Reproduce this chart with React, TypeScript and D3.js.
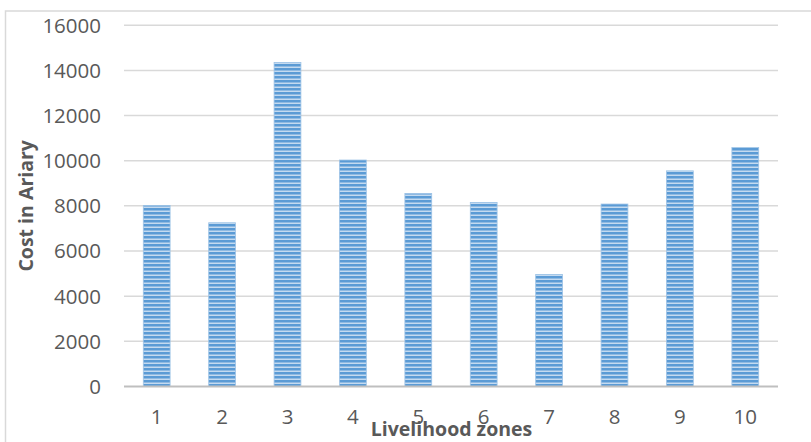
import React from "react";
import * as d3 from "d3";

const zones = ["1", "2", "3", "4", "5", "6", "7", "8", "9", "10"];
const costs = [8020, 7250, 14350, 10030, 8550, 8150, 4960, 8080, 9550, 10590];
const yTicks = [0, 2000, 4000, 6000, 8000, 10000, 12000, 14000, 16000];

const W = 811;
const H = 442;
const plot = { left: 124, right: 778, top: 25.3, bottom: 386.4 };

export default function App() {
  const x = d3
    .scaleBand<string>()
    .domain(zones)
    .range([plot.left, plot.right])
    .paddingInner(0.59)
    .paddingOuter(0.295);
  const y = d3.scaleLinear().domain([0, 16000]).range([plot.bottom, plot.top]);
  const font = "'Open Sans', 'Liberation Sans', sans-serif";

  return (
    <svg
      width={W}
      height={H}
      style={{ position: "fixed", left: 0, top: 0, background: "#fff" }}
    >
      <defs>
        <pattern id="hstripes" patternUnits="userSpaceOnUse" width={8} height={4}>
          <rect x={0} y={0} width={8} height={4} fill="#c4daf0" />
          <rect x={0} y={0} width={8} height={2.5} fill="#5b9bd5" />
        </pattern>
      </defs>
      {/* chart area frame */}
      <rect x={5.5} y={11} width={W + 10} height={H + 10} fill="none" stroke="#d9d9d9" strokeWidth={1.5} />

      {/* gridlines */}
      {yTicks.slice(1).map((t) => (
        <line key={t} x1={plot.left} x2={plot.right} y1={y(t)} y2={y(t)} stroke="#d9d9d9" strokeWidth={1.5} />
      ))}

      {/* bars */}
      {costs.map((v, i) => (
        <rect
          key={zones[i]}
          x={x(zones[i])}
          y={y(v)}
          width={x.bandwidth()}
          height={y(0) - y(v)}
          fill="url(#hstripes)"
          stroke="#9dc3e6"
          strokeWidth={0.8}
        />
      ))}

      {/* category axis */}
      <line x1={plot.left} x2={plot.right} y1={y(0)} y2={y(0)} stroke="#bfbfbf" strokeWidth={2} />

      {/* y tick labels */}
      {yTicks.map((t) => (
        <text
          key={t}
          x={101}
          y={y(t)}
          dy="0.36em"
          textAnchor="end"
          fontFamily={font}
          fontSize={20.5}
          fill="#595959"
        >
          {t}
        </text>
      ))}

      {/* x tick labels */}
      {zones.map((z) => (
        <text
          key={z}
          x={(x(z) ?? 0) + x.bandwidth() / 2}
          y={424}
          textAnchor="middle"
          fontFamily={font}
          fontSize={20.5}
          fill="#595959"
        >
          {z}
        </text>
      ))}

      {/* axis titles */}
      <text
        x={451.5}
        y={436}
        textAnchor="middle"
        fontFamily={font}
        fontWeight="bold"
        fontSize={19.5}
        fill="#595959"
      >
        Livelihood zones
      </text>
      <text
        transform={`translate(33, ${(plot.top + plot.bottom) / 2}) rotate(-90)`}
        textAnchor="middle"
        fontFamily={font}
        fontWeight="bold"
        fontSize={19.5}
        fill="#595959"
      >
        Cost in Ariary
      </text>
    </svg>
  );
}
